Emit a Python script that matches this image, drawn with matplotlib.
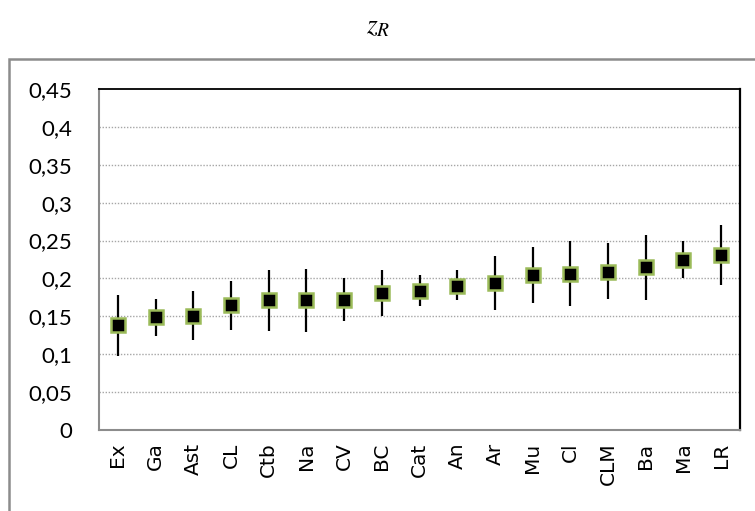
import matplotlib
matplotlib.use("Agg")
import matplotlib.pyplot as plt
from matplotlib.patches import Rectangle
import numpy as np

plt.rcParams["mathtext.fontset"] = "stix"

# Estimated values with lower / upper interval bounds
categories = ["Ex", "Ga", "Ast", "CL", "Ctb", "Na", "CV", "BC", "Cat",
              "An", "Ar", "Mu", "Cl", "CLM", "Ba", "Ma", "LR"]
values = [0.139, 0.149, 0.151, 0.165, 0.171, 0.172, 0.172, 0.181, 0.183,
          0.190, 0.194, 0.204, 0.206, 0.209, 0.215, 0.224, 0.231]
lower = [0.098, 0.124, 0.119, 0.132, 0.131, 0.129, 0.144, 0.150, 0.163,
         0.171, 0.159, 0.167, 0.164, 0.173, 0.172, 0.201, 0.192]
upper = [0.178, 0.173, 0.183, 0.197, 0.211, 0.212, 0.200, 0.211, 0.204,
         0.211, 0.230, 0.241, 0.249, 0.247, 0.257, 0.249, 0.270]

y_ticks = [0, 0.05, 0.1, 0.15, 0.2, 0.25, 0.3, 0.35, 0.4, 0.45]
y_tick_labels = ["0", "0,05", "0,1", "0,15", "0,2", "0,25", "0,3", "0,35", "0,4", "0,45"]

fig = plt.figure(figsize=(7.55, 5.11), dpi=100)
ax = fig.add_axes([99 / 755, 1 - 430 / 511, 641 / 755, 341 / 511])

x = np.arange(len(categories))
vals = np.array(values)
yerr = np.vstack([vals - np.array(lower), np.array(upper) - vals])

ax.errorbar(x, vals, yerr=yerr, fmt="none", ecolor="black", elinewidth=1.6,
            capsize=0, zorder=3)
ax.plot(x, vals, linestyle="none", marker="s", markersize=10.5,
        markerfacecolor="black", markeredgecolor="#9BBB59",
        markeredgewidth=1.8, zorder=4)

ax.set_xlim(-0.5, len(categories) - 0.5)
ax.set_ylim(0, 0.45)
ax.set_yticks(y_ticks)
ax.set_yticklabels(y_tick_labels, fontfamily="Lato", fontsize=16)
ax.set_xticks(x)
ax.set_xticklabels(categories, rotation=90, fontfamily="DejaVu Sans",
                   fontsize=14.5)
ax.tick_params(axis="y", length=0, pad=19)
ax.tick_params(axis="x", length=0, pad=9)

for yv in y_ticks[1:-1]:
    ax.axhline(yv, color="#a6a6a6", linewidth=1.0, linestyle=(0, (1, 1.2)),
               zorder=1)

ax.spines["left"].set_color("#8c8c8c")
ax.spines["bottom"].set_color("#8c8c8c")
ax.spines["left"].set_linewidth(1.5)
ax.spines["bottom"].set_linewidth(1.5)
ax.spines["top"].set_color("black")
ax.spines["right"].set_color("black")
ax.spines["top"].set_linewidth(1.3)
ax.spines["right"].set_linewidth(1.6)

# Chart-area frame
frame = Rectangle((9 / 755, -0.05), 1.2, 1 - 59 / 511 + 0.05,
                  transform=fig.transFigure, fill=False,
                  edgecolor="#8c8c8c", linewidth=1.8, clip_on=False)
fig.patches.append(frame)

fig.text(378 / 755, 1 - 25 / 511, r"$z_R$", ha="center", va="center",
         fontsize=20)

fig.savefig("out.png", dpi=100)
